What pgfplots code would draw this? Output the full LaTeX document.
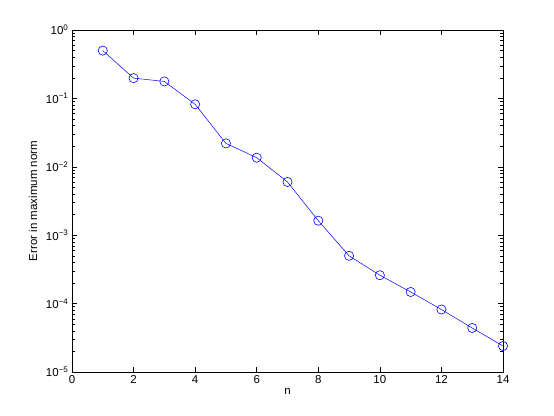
\documentclass[border=0pt]{standalone}
\usepackage{fontspec}
\setmainfont{Liberation Sans}
\usepackage{pgfplots}
\pgfplotsset{compat=1.18}
\definecolor{mblue}{RGB}{0,0,255}

\begin{document}
\begin{tikzpicture}[x=1pt,y=1pt]
\path (-72,-43) rectangle (482,372);
\begin{axis}[
  at={(0,0)}, anchor=south west,
  scale only axis,
  width=431pt, height=342pt,
  ymode=log,
  xmin=0, xmax=14, ymin=1e-5, ymax=1,
  xtick={0,2,...,14},
  ytick={1e-5,1e-4,1e-3,1e-2,1e-1,1},
  yticklabels={10\textsuperscript{−5},10\textsuperscript{−4},10\textsuperscript{−3},10\textsuperscript{−2},10\textsuperscript{−1},10\textsuperscript{0}},
  /pgf/number format/assume math mode=true,
  tick align=inside,
  major tick length=5pt,
  minor tick length=3pt,
  tick style={black, line width=0.5pt},
  axis line style={line width=0.6pt},
  tick label style={font=\fontsize{11.5}{13}\selectfont},
  label style={font=\fontsize{11.5}{13}\selectfont},
  xlabel={n},
  ylabel={Error in maximum norm},
  xlabel style={yshift=2pt},
  ylabel style={yshift=2pt},
]
\addplot[color=mblue, line width=0.5pt, mark=o, mark size=4.6pt, mark options={line width=0.6pt}]
  coordinates {
  (1,0.50) (2,0.198) (3,0.177) (4,0.082) (5,0.022) (6,0.0136) (7,0.0060)
  (8,0.00163) (9,5.0e-4) (10,2.6e-4) (11,1.48e-4) (12,8.2e-5) (13,4.4e-5) (14,2.4e-5)
  };
\end{axis}
\end{tikzpicture}
\end{document}
